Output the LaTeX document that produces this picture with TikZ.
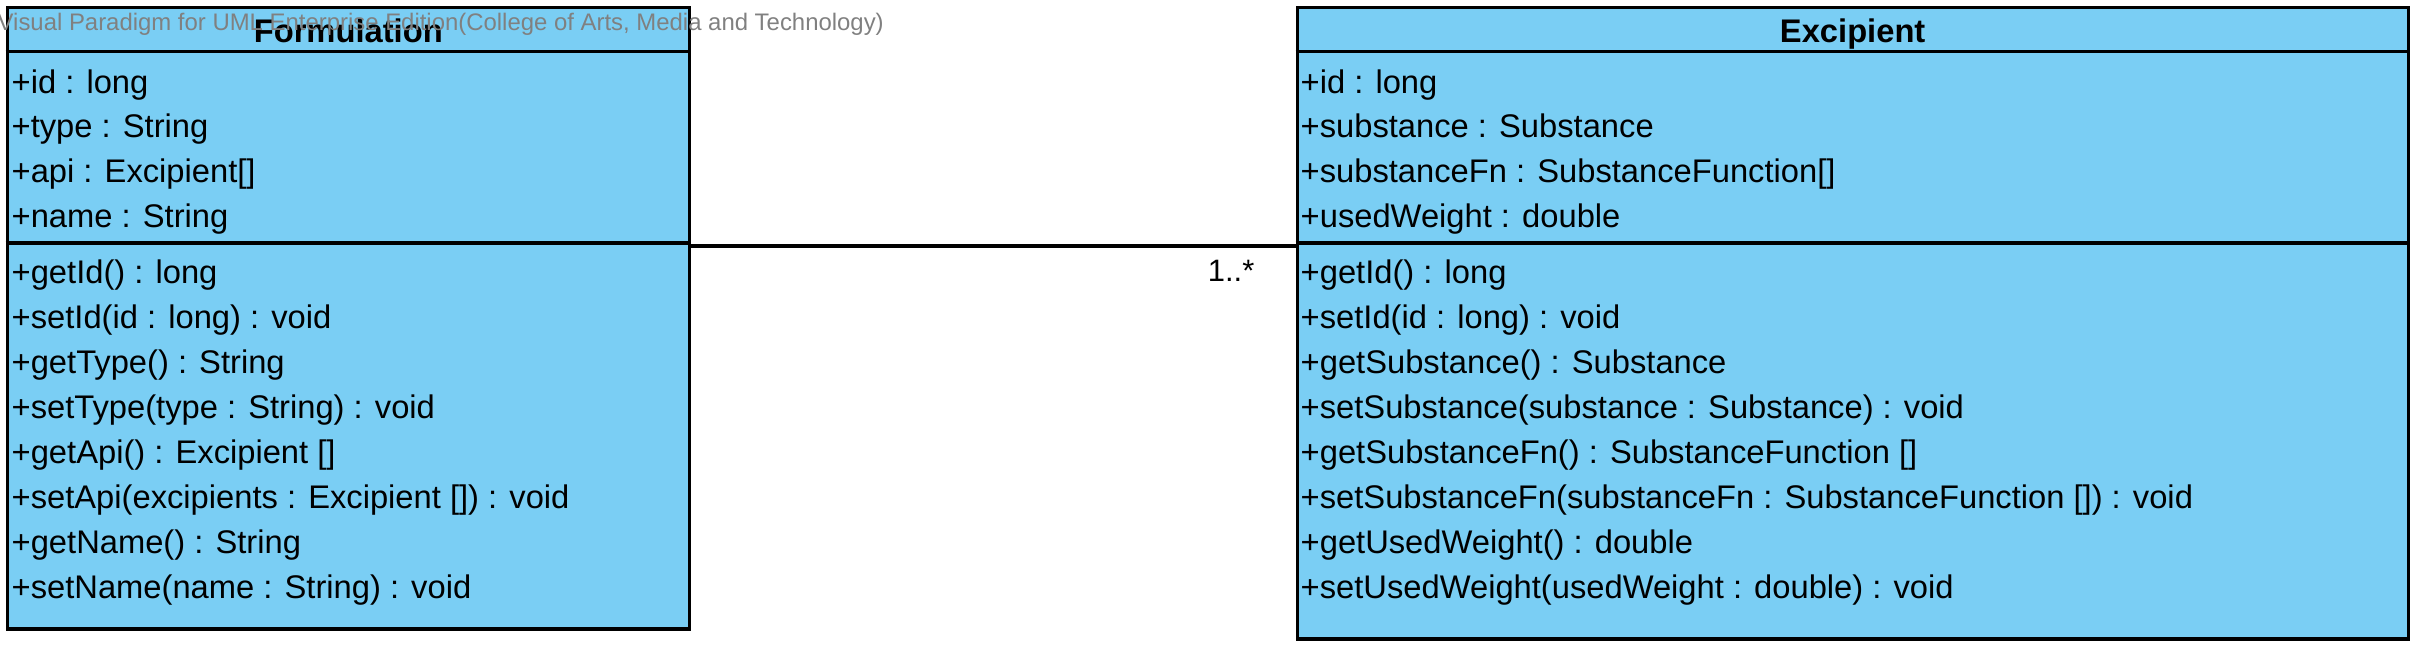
\documentclass[tikz,border=0pt]{standalone}
\usepackage{fontspec}
\setmainfont{Liberation Sans}
\usepackage{xcolor}
\usetikzlibrary{positioning}

\definecolor{clsfill}{RGB}{122,206,244}
\definecolor{vpgray}{RGB}{128,128,128}

\begin{document}
\begin{tikzpicture}[
  x=0.01cm, y=-0.01cm,
  clsbox/.style={rectangle, draw, line width=0.9pt, fill=clsfill, anchor=north west, inner sep=0pt},
  member/.style={anchor=base west, inner sep=0pt, font=\fontsize{9.3}{11}\selectfont},
  clsname/.style={anchor=base, inner sep=0pt, font=\fontsize{9.3}{11}\selectfont\bfseries},
  sepline/.style={line width=0.9pt},
  assoc/.style={line width=1pt}
]
\useasboundingbox (0,0) rectangle (2418,648);

% class boxes
\node[clsbox, minimum width=6.82cm, minimum height=6.21cm] (fm) at (5.5,6) {};
\node[clsbox, minimum width=11.105cm, minimum height=6.31cm] (ex) at (1295.5,6) {};

\draw[sepline] (fm.west |- 0,51.5) -- (fm.east |- 0,51.5);
\draw[sepline] (fm.west |- 0,243) -- (fm.east |- 0,243);
\draw[sepline] (ex.west |- 0,51.5) -- (ex.east |- 0,51.5);
\draw[sepline] (ex.west |- 0,243) -- (ex.east |- 0,243);

% Formulation
\node[clsname] (fm-name) at (fm.north |- 0,42) {Formulation};
\node[member] (fm-a1) at (11,93) {+id : long};
\node[member] (fm-a2) at (11,137.7) {+type : String};
\node[member] (fm-a3) at (11,182.3) {+api : Excipient[]};
\node[member] (fm-a4) at (11,227) {+name : String};
\node[member] (fm-o1) at (11,283) {+getId() : long};
\node[member] (fm-o2) at (11,328) {+setId(id : long) : void};
\node[member] (fm-o3) at (11,373) {+getType() : String};
\node[member] (fm-o4) at (11,418) {+setType(type : String) : void};
\node[member] (fm-o5) at (11,463) {+getApi() : Excipient []};
\node[member] (fm-o6) at (11,508) {+setApi(excipients : Excipient []) : void};
\node[member] (fm-o7) at (11,553) {+getName() : String};
\node[member] (fm-o8) at (11,598) {+setName(name : String) : void};

% Excipient
\node[clsname] (ex-name) at (ex.north |- 0,42) {Excipient};
\node[member] (ex-a1) at (1300,93) {+id : long};
\node[member] (ex-a2) at (1300,137.7) {+substance : Substance};
\node[member] (ex-a3) at (1300,182.3) {+substanceFn : SubstanceFunction[]};
\node[member] (ex-a4) at (1300,227) {+usedWeight : double};
\node[member] (ex-o1) at (1300,283) {+getId() : long};
\node[member] (ex-o2) at (1300,328) {+setId(id : long) : void};
\node[member] (ex-o3) at (1300,373) {+getSubstance() : Substance};
\node[member] (ex-o4) at (1300,418) {+setSubstance(substance : Substance) : void};
\node[member] (ex-o5) at (1300,463) {+getSubstanceFn() : SubstanceFunction []};
\node[member] (ex-o6) at (1300,508) {+setSubstanceFn(substanceFn : SubstanceFunction []) : void};
\node[member] (ex-o7) at (1300,553) {+getUsedWeight() : double};
\node[member] (ex-o8) at (1300,598) {+setUsedWeight(usedWeight : double) : void};

% association
\draw[assoc] (fm.east |- 0,246) -- (ex.west |- 0,246);
\node[member, anchor=base east, font=\fontsize{8.8}{10}\selectfont] (mult) at (1255,281) {1..*};

% watermark
\node[anchor=base west, inner sep=0pt, text=vpgray, font=\fontsize{6.8}{8}\selectfont] (vp) at (-3,30)
  {Visual Paradigm for UML Enterprise Edition(College of Arts, Media and Technology)};
\end{tikzpicture}
\end{document}
